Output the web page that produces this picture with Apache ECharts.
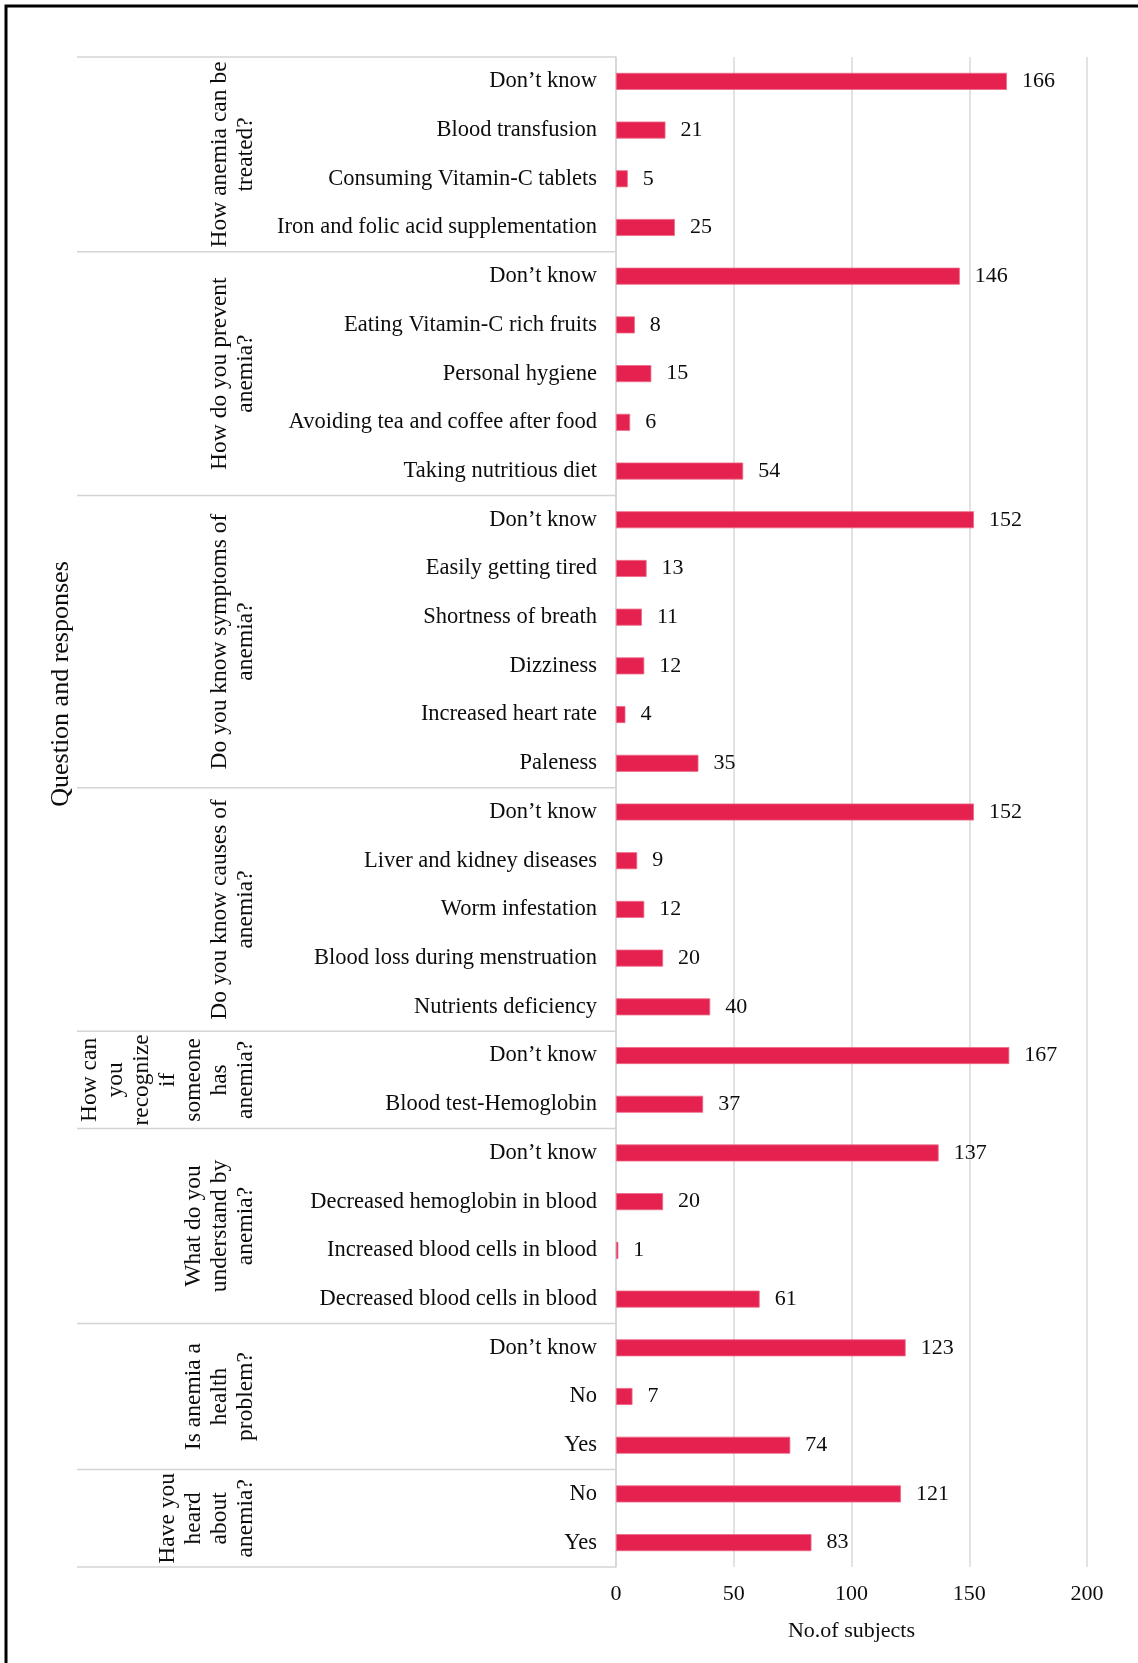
<!DOCTYPE html>
<html>
<head>
<meta charset="utf-8">
<script src="https://cdn.jsdelivr.net/npm/echarts@6/dist/echarts.min.js"></script>
<style>
html,body{margin:0;padding:0;background:#fff;}
#chart{width:1138px;height:1663px;}
</style>
</head>
<body>
<div id="chart"></div>
<script>
// ---- data ----
const questions = [
  "How anemia can be\ntreated?",
  "How do you prevent\nanemia?",
  "Do you know symptoms of\nanemia?",
  "Do you know causes of\nanemia?",
  "How can\nyou\nrecognize\nif\nsomeone\nhas\nanemia?",
  "What do you\nunderstand by\nanemia?",
  "Is anemia a\nhealth\nproblem?",
  "Have you\nheard\nabout\nanemia?"
];
const responsesTreat = ["Don\u2019t know", "Blood transfusion", "Consuming Vitamin-C tablets", "Iron and folic acid supplementation"];
const countsTreat = [166, 21, 5, 25];
const responsesPrevent = ["Don\u2019t know", "Eating Vitamin-C rich fruits", "Personal hygiene", "Avoiding tea and coffee after food", "Taking nutritious diet"];
const countsPrevent = [146, 8, 15, 6, 54];
const responsesSymptoms = ["Don\u2019t know", "Easily getting tired", "Shortness of breath", "Dizziness", "Increased heart rate", "Paleness"];
const countsSymptoms = [152, 13, 11, 12, 4, 35];
const responsesCauses = ["Don\u2019t know", "Liver and kidney diseases", "Worm infestation", "Blood loss during menstruation", "Nutrients deficiency"];
const countsCauses = [152, 9, 12, 20, 40];
const responsesRecognize = ["Don\u2019t know", "Blood test-Hemoglobin"];
const countsRecognize = [167, 37];
const responsesUnderstand = ["Don\u2019t know", "Decreased hemoglobin in blood", "Increased blood cells in blood", "Decreased blood cells in blood"];
const countsUnderstand = [137, 20, 1, 61];
const responsesHealth = ["Don\u2019t know", "No", "Yes"];
const countsHealth = [123, 7, 74];
const responsesHeard = ["No", "Yes"];
const countsHeard = [121, 83];
const xTicks = [0, 50, 100, 150, 200];
const xAxisTitle = "No.of subjects";
const yAxisTitle = "Question and responses";

const responseGroups = [responsesTreat, responsesPrevent, responsesSymptoms, responsesCauses, responsesRecognize, responsesUnderstand, responsesHealth, responsesHeard];
const countGroups = [countsTreat, countsPrevent, countsSymptoms, countsCauses, countsRecognize, countsUnderstand, countsHealth, countsHeard];

// ---- build ----
const categories = [];
const values = [];
const groupStart = [];
responseGroups.forEach((g, gi) => {
  groupStart.push(categories.length);
  g.forEach((r, ri) => { categories.push(r); values.push(countGroups[gi][ri]); });
});
groupStart.push(categories.length);

const FONT = "'Liberation Serif', 'Times New Roman', serif";
const TXT = '#0d0d0d';
const chart = echarts.init(document.getElementById('chart'), null, {renderer: 'canvas'});

chart.setOption({
  animation: false,
  backgroundColor: '#fff',
  grid: {left: 616, right: 51, top: 57, bottom: 96, containLabel: false},
  xAxis: {
    type: 'value', min: xTicks[0], max: xTicks[xTicks.length - 1], interval: 50,
    axisLine: {show: false}, axisTick: {show: false},
    splitLine: {show: true, lineStyle: {color: '#d9d9d9', width: 1.5}},
    axisLabel: {fontFamily: FONT, fontSize: 22, color: TXT, margin: 16},
    name: xAxisTitle, nameLocation: 'middle', nameGap: 53,
    nameTextStyle: {fontFamily: FONT, fontSize: 22, color: TXT}
  },
  yAxis: {
    type: 'category', inverse: true,
    data: categories.map((c, i) => String(i)),
    axisLine: {show: true, lineStyle: {color: '#d4d4d4', width: 1.5}},
    axisTick: {show: false},
    axisLabel: {
      fontFamily: FONT, fontSize: 22.5, color: TXT, margin: 19, interval: 0,
      formatter: (v) => categories[+v]
    }
  },
  series: [{
    type: 'bar', data: values, barWidth: 17,
    itemStyle: {color: '#E4214F', borderColor: '#EE6A88', borderWidth: 0.8},
    label: {show: true, position: 'right', distance: 15, fontFamily: FONT, fontSize: 22, color: TXT}
  }]
});

// ---- group separators and question labels from the axis scale ----
const c0 = chart.convertToPixel({yAxisIndex: 0}, 0);
const c1 = chart.convertToPixel({yAxisIndex: 0}, 1);
const band = c1 - c0;
const edge = (i) => chart.convertToPixel({yAxisIndex: 0}, Math.min(i, categories.length - 1)) + (i >= categories.length ? band / 2 : -band / 2);
const axisX = chart.convertToPixel({xAxisIndex: 0}, 0);
const graphics = [];
graphics.push({type: 'rect', shape: {x: 6, y: 6, width: 1300, height: 1800}, style: {fill: null, stroke: '#000', lineWidth: 3}, z: 10, silent: true});
groupStart.forEach((s) => {
  const y = edge(s);
  graphics.push({type: 'line', shape: {x1: 77, y1: y, x2: axisX, y2: y}, style: {stroke: '#d4d4d4', lineWidth: 1.5}, silent: true});
});
questions.forEach((q, qi) => {
  const yTop = edge(groupStart[qi]);
  const yBot = edge(groupStart[qi + 1]);
  graphics.push({
    type: 'text', x: 259, y: (yTop + yBot) / 2, rotation: Math.PI / 2, silent: true,
    style: {text: q, font: "23.5px " + FONT, fill: TXT, textAlign: 'center', textVerticalAlign: 'bottom', verticalAlign: 'bottom', lineHeight: 26}
  });
});
graphics.push({
  type: 'text', x: 61, y: 684, rotation: Math.PI / 2, silent: true,
  style: {text: yAxisTitle, font: "26px " + FONT, fill: TXT, textAlign: 'center', textVerticalAlign: 'middle', verticalAlign: 'middle'}
});
chart.setOption({graphic: graphics});
</script>
</body>
</html>
